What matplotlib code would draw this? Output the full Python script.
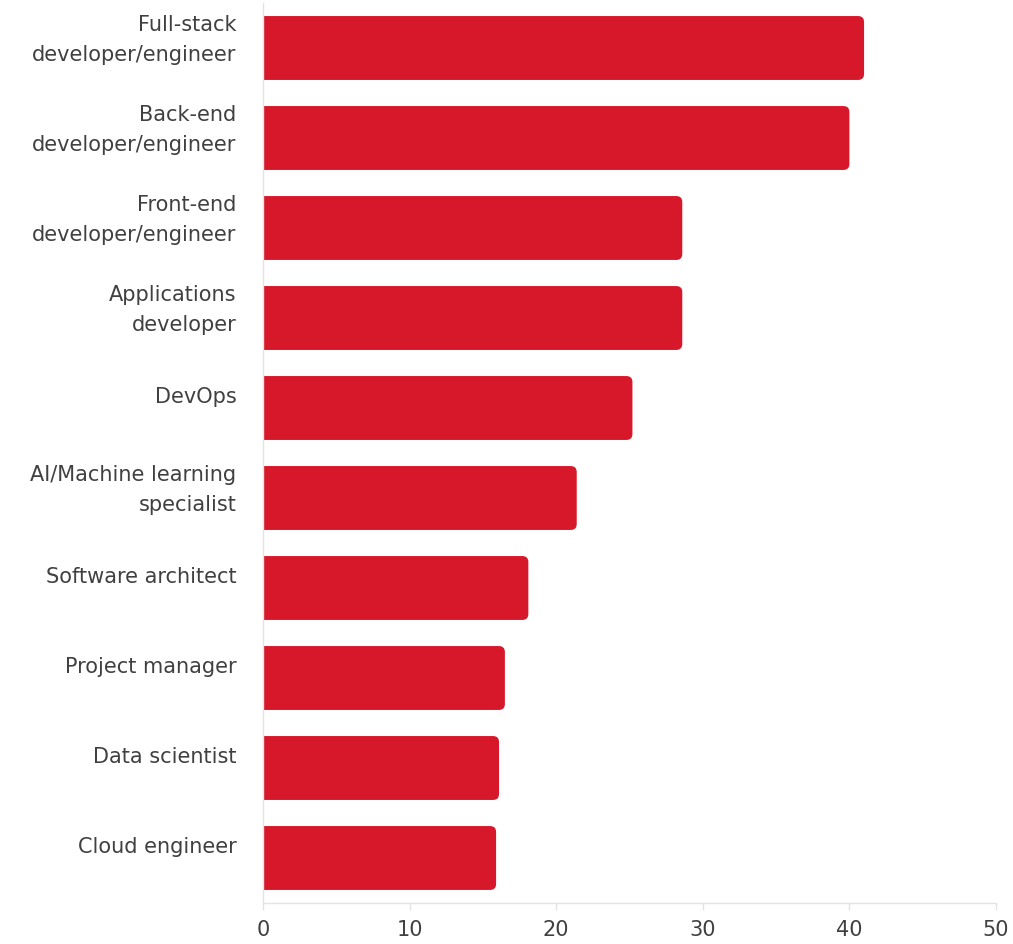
import matplotlib
matplotlib.use('Agg')
import matplotlib.pyplot as plt
import matplotlib.transforms as mtransforms
from matplotlib.patches import FancyBboxPatch

# --- Dữ liệu ---
roles = [
    'Full-stack\ndeveloper/engineer',
    'Back-end\ndeveloper/engineer',
    'Front-end\ndeveloper/engineer',
    'Applications\ndeveloper',
    'DevOps',
    'AI/Machine learning\nspecialist',
    'Software architect',
    'Project manager',
    'Data scientist',
    'Cloud engineer',
]
values = [41.0, 40.0, 28.6, 28.6, 25.2, 21.4, 18.1, 16.5, 16.1, 15.9]
x_ticks = [0, 10, 20, 30, 40, 50]

BAR_COLOR = '#d7182a'
TEXT_COLOR = '#404040'
AXIS_COLOR = '#e3e3e3'

plt.rcParams['font.family'] = ['DejaVu Sans']

fig = plt.figure(figsize=(10.13, 9.44), dpi=100)
ax = fig.add_axes([263 / 1013, 41 / 944, 733 / 1013, 900 / 944])

ypos = list(range(len(roles)))
bar_h = 0.71
bars = ax.barh(ypos, values, height=bar_h, color='none', edgecolor='none')

ax.set_xlim(0, 50)
ax.set_ylim(len(roles) - 0.5, -0.5)

# Bo góc phải của thanh (phần trái bị cắt bởi trục)
px_x = 733 / 50.0
px_y = 900 / len(roles)
r = 6 / px_x
for b in bars:
    x0, y0 = b.get_x(), b.get_y()
    w, h = b.get_width(), b.get_height()
    p = FancyBboxPatch((x0 - 2, y0), w + 2, h,
                       boxstyle=f'round,pad=0,rounding_size={r}',
                       mutation_aspect=px_x / px_y,
                       facecolor=BAR_COLOR, edgecolor='none', clip_on=True)
    ax.add_patch(p)
    p.set_clip_path(ax.patch)

ax.set_yticks(ypos)
ax.set_yticklabels(roles, fontsize=15, color=TEXT_COLOR, linespacing=1.63,
                   ha='right')
ax.tick_params(axis='y', length=0, pad=19)
# nhãn hơi lệch lên trên so với tâm thanh
for lbl in ax.get_yticklabels():
    dy = 15 if '\n' in lbl.get_text() else 13
    shift = mtransforms.ScaledTranslation(0, dy / 100, fig.dpi_scale_trans)
    lbl.set_transform(lbl.get_transform() + shift)

ax.set_xticks(x_ticks)
ax.set_xticklabels([str(t) for t in x_ticks], fontsize=15, color=TEXT_COLOR)
ax.tick_params(axis='x', length=5, width=1, color=AXIS_COLOR, pad=7)

for s in ['top', 'right']:
    ax.spines[s].set_visible(False)
for s in ['left', 'bottom']:
    ax.spines[s].set_color(AXIS_COLOR)
    ax.spines[s].set_linewidth(1)

fig.savefig('out.png', dpi=100, facecolor='white')
